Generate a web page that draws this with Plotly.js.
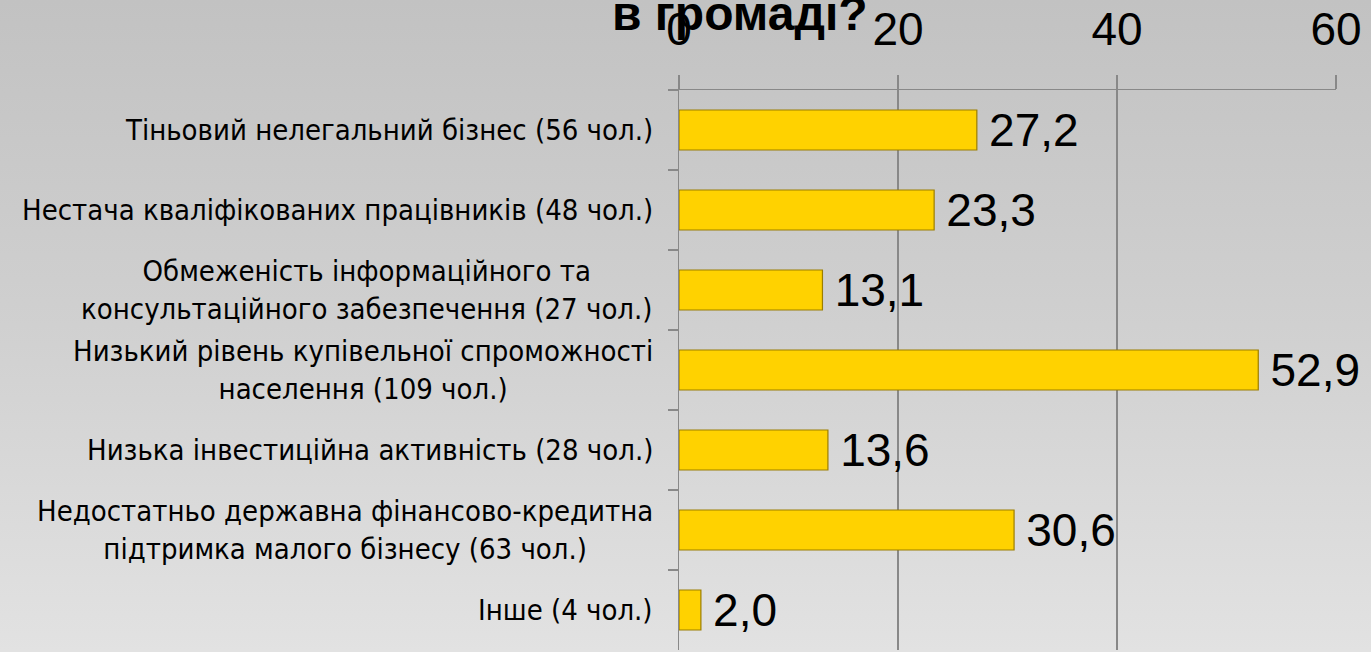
<!DOCTYPE html>
<html>
<head>
<meta charset="utf-8">
<script src="https://cdn.plot.ly/plotly-3.0.1.min.js"></script>
<style>
html,body{margin:0;padding:0;width:1371px;height:652px;overflow:hidden;
background:linear-gradient(to bottom,#c2c2c2 0%,#d0d0d0 50%,#e2e2e2 100%);}
#chart{width:1371px;height:652px;}
</style>
</head>
<body>
<div id="chart"></div>
<script>
var categories = [
  "Тіньовий нелегальний бізнес (56 чол.)",
  "Нестача кваліфікованих працівників (48 чол.)",
  "Обмеженість інформаційного та<br>консультаційного забезпечення (27 чол.)",
  "Низький рівень купівельної спроможності<br>населення (109 чол.)",
  "Низька інвестиційна активність (28 чол.)",
  "Недостатньо державна фінансово-кредитна<br>підтримка малого бізнесу (63 чол.)",
  "Інше (4 чол.)"
];
var values = [27.2, 23.3, 13.1, 52.9, 13.6, 30.6, 2.0];
var xTicks = [0, 20, 40, 60];
var titleText = "в громаді?";

var trace = {
  type: "bar",
  orientation: "h",
  y: categories,
  x: values,
  width: 0.5,
  marker: {color: "#FFD200", line: {color: "#9C7E00", width: 1.2}},
  text: values.map(function(v){return "\u2009" + v.toFixed(1).replace(".", ",");}),
  textposition: "outside",
  constraintext: "none",
  textfont: {family: "Liberation Sans, Arial, sans-serif", size: 46, color: "#000"},
  cliponaxis: false,
  hoverinfo: "none"
};

var annotations = categories.map(function(c){
  return {
    xref: "paper", yref: "y", x: 0, y: c, text: c,
    xanchor: "right", yanchor: "middle", align: "center",
    xshift: -24, showarrow: false,
    font: {family: "DejaVu Sans Condensed, Arial Narrow, sans-serif", size: 29, color: "#000"}
  };
});
annotations.push({
  xref: "paper", yref: "paper", x: 0.093, y: 1, yanchor: "bottom", xanchor: "center",
  yshift: 48, showarrow: false, text: titleText,
  font: {family: "Liberation Sans, Arial, sans-serif", size: 48, color: "#000", weight: "bold"}
});

var layout = {
  width: 1371, height: 652,
  margin: {l: 679, r: 35, t: 90, b: 2, pad: 0},
  paper_bgcolor: "rgba(0,0,0,0)",
  plot_bgcolor: "rgba(0,0,0,0)",
  showlegend: false,
  bargap: 0.5,
  xaxis: {
    side: "top", range: [0, 60], tickvals: xTicks, ticktext: xTicks.map(String),
    showgrid: true, gridcolor: "#888888", gridwidth: 1.2,
    showline: true, linecolor: "#888888", linewidth: 1.5,
    ticks: "outside", ticklen: 14, tickcolor: "#888888", tickwidth: 1.5,
    zeroline: false, ticklabelstandoff: 11,
    tickfont: {family: "Liberation Sans, Arial, sans-serif", size: 46, color: "#000"},
    fixedrange: true
  },
  yaxis: {
    autorange: "reversed", type: "category",
    showticklabels: false,
    showline: true, linecolor: "#888888", linewidth: 1.5,
    ticks: "outside", tickson: "boundaries", ticklen: 10, tickcolor: "#888888", tickwidth: 1.5,
    showgrid: false, fixedrange: true
  },
  annotations: annotations
};

Plotly.newPlot("chart", [trace], layout, {displayModeBar: false, staticPlot: true});
</script>
</body>
</html>
